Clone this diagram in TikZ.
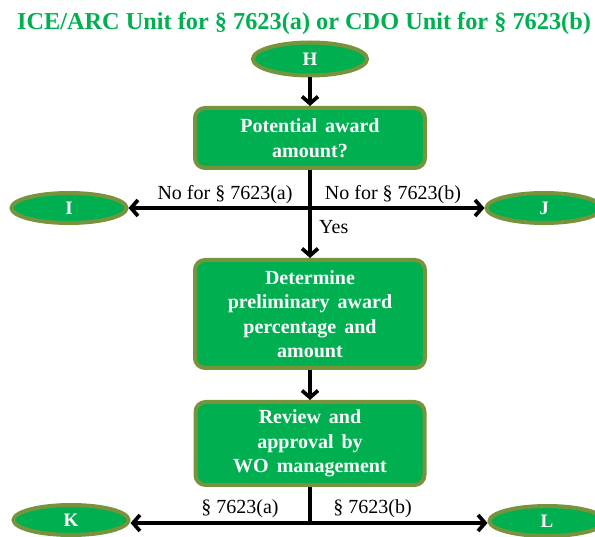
\documentclass[tikz,border=0pt]{standalone}
\usepackage{fontspec}
\setmainfont{Liberation Serif}
\usetikzlibrary{shapes.geometric,arrows.meta}
\definecolor{boxgreen}{HTML}{00B050}
\definecolor{olivegreen}{HTML}{77933C}
\newcommand\myboxfont{\bfseries\fontsize{20}{24.5}\selectfont\spaceskip=0.4em plus 0.1em\relax}
\tikzset{
  term/.style={ellipse, draw=olivegreen, fill=boxgreen, line width=4pt, inner sep=0pt,
    minimum width=115pt, minimum height=30pt, text=white, font=\bfseries\fontsize{19}{22}\selectfont},
  proc/.style={rectangle, rounded corners=10pt, draw=olivegreen, fill=boxgreen, line width=4pt,
    minimum width=230pt, text=white, align=center, inner sep=2pt, font=\myboxfont},
  flow/.style={line width=3.7pt, -{Straight Barb[length=7pt,width=16pt]}},
  plainline/.style={line width=3.7pt},
  lbl/.style={font=\fontsize{20}{22}\selectfont, anchor=base, inner sep=0pt},
}
\begin{document}
\begin{tikzpicture}[x=1pt,y=-1pt]
\useasboundingbox (0,0) rectangle (595,537);
\node[anchor=base west, inner sep=0pt, text=boxgreen, font=\bfseries\fontsize{24.3}{28}\selectfont]
  (title) at (17,30) {ICE/ARC Unit for § 7623(a) or CDO Unit for § 7623(b)};

\node[term, minimum width=114pt, minimum height=33pt] (h) at (310,59) {H};
\node[proc, minimum height=60pt] (b1) at (310,138) {Potential award\\amount?};
\node[proc, minimum height=108pt] (b2) at (310,314) {Determine\\preliminary award\\percentage and\\amount};
\node[proc, minimum height=83pt, minimum width=229pt] (b3) at (310,443.5) {Review and\\approval by\\WO management};

\node[term] (i) at (69,208) {I};
\node[term] (j) at (544,208) {J};
\node[term] (k) at (71,520) {K};
\node[term] (l) at (547,521) {L};

\coordinate (j1) at (310,208);
\coordinate (j2) at (310,523);

\draw[flow] (h) -- (b1);
\draw[flow] (b1) -- (b2);
\draw[flow] (j1) -- (i);
\draw[flow] (j1) -- (j);
\draw[flow] (b2) -- (b3);
\draw[plainline] (b3.south) -- ([yshift=1.5pt]j2);
\draw[flow] (j2) -- (j2 -| k.east);
\draw[flow] (j2) -- (j2 -| l.west);

\node[lbl] (la) at (225,200) {No for § 7623(a)};
\node[lbl] (lb) at (393,200) {No for § 7623(b)};
\node[lbl, anchor=base west] (yes) at (319,234) {Yes};
\node[lbl] (lc) at (240,514) {§ 7623(a)};
\node[lbl] (ld) at (372.5,514) {§ 7623(b)};
\end{tikzpicture}
\end{document}
